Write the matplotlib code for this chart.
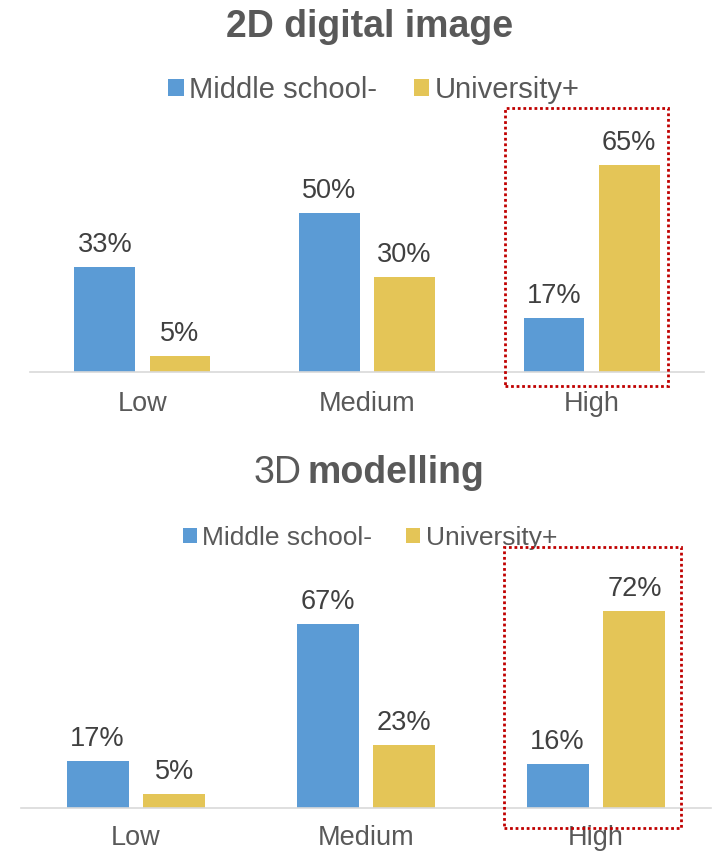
import matplotlib
matplotlib.use("Agg")
import numpy as np
import matplotlib.pyplot as plt
from matplotlib.patches import Rectangle

plt.rcParams['font.family'] = ['Liberation Sans', 'DejaVu Sans']

# Datos
niveles = ['Low', 'Medium', 'High']
series = ['Middle school-', 'University+']
img_2d_media = [33, 50, 17]
img_2d_univ = [5, 30, 65]
mod_3d_media = [17, 67, 16]
mod_3d_univ = [5, 23, 72]

AZUL = '#5B9BD5'
AMARILLO = '#E4C557'
GRIS_TXT = '#595959'
GRIS_VAL = '#404040'
ROJO = '#C00000'

W, H = 718, 855
fig = plt.figure(figsize=(W / 100, H / 100), dpi=100)


def caja(x0, y0, x1, y1):
    # caja en pixeles (origen arriba a la izquierda)
    return [x0 / W, 1 - y1 / H, (x1 - x0) / W, (y1 - y0) / H]


def panel(rect, ymax, media, univ, pad, fs_leg, leg_xy, hl, cs):
    ax = fig.add_axes(rect)
    x = np.arange(len(niveles))
    ancho = 0.27
    b1 = ax.bar(x - 0.167, media, ancho, color=AZUL, label=series[0])
    b2 = ax.bar(x + 0.167, univ, ancho, color=AMARILLO, label=series[1])
    for barras in (b1, b2):
        for b in barras:
            ax.annotate('%d%%' % b.get_height(),
                        (b.get_x() + b.get_width() / 2, b.get_height()),
                        xytext=(0, 9), textcoords='offset pixels',
                        ha='center', va='bottom', fontsize=19.5, color=GRIS_VAL)
    ax.set_xlim(-0.5, 2.5)
    ax.set_ylim(0, ymax)
    ax.set_xticks(x)
    ax.set_xticklabels(niveles, fontsize=19.5, color=GRIS_TXT)
    ax.set_yticks([])
    ax.tick_params(axis='x', length=0, pad=pad)
    for s in ['top', 'left', 'right']:
        ax.spines[s].set_visible(False)
    ax.spines['bottom'].set_color('#D9D9D9')
    ax.spines['bottom'].set_linewidth(1.2)
    ax.patch.set_alpha(0)
    leg = ax.legend(ncol=2, loc='center', frameon=False, fontsize=fs_leg,
                    bbox_to_anchor=(leg_xy[0] / W, 1 - leg_xy[1] / H),
                    bbox_transform=fig.transFigure,
                    handlelength=hl, handleheight=hl, handletextpad=0.2,
                    columnspacing=cs)
    for t in leg.get_texts():
        t.set_color(GRIS_TXT)
    return ax


# 2D digital image
panel(caja(30, 100, 704, 372), (372 - 100) / 3.18,
      img_2d_media, img_2d_univ, 14, 21, (374, 90), 0.52, 1.24)
# 3D modelling
panel(caja(21, 560, 711, 808), (808 - 560) / 2.74,
      mod_3d_media, mod_3d_univ, 12, 19, (370, 538), 0.53, 1.29)

# titulos
fig.text(370 / W, 1 - 37 / H, '2D digital image', ha='center', va='baseline',
         fontsize=27, fontweight='bold', color=GRIS_TXT)
fig.text(302 / W, 1 - 483 / H, '3D', ha='right', va='baseline',
         fontsize=27, color=GRIS_TXT)
fig.text(308 / W, 1 - 483 / H, 'modelling', ha='left', va='baseline',
         fontsize=27, fontweight='bold', color=GRIS_TXT)

# recuadros punteados sobre "High"
for (x0, y0, x1, y1) in [(505, 108, 668, 386), (504, 547, 681, 828)]:
    r = caja(x0, y0, x1, y1)
    fig.patches.append(Rectangle((r[0], r[1]), r[2], r[3], fill=False,
                                 edgecolor=ROJO, linewidth=2,
                                 linestyle=(0, (1, 1)),
                                 transform=fig.transFigure, figure=fig))

fig.savefig('out.png', dpi=100)
